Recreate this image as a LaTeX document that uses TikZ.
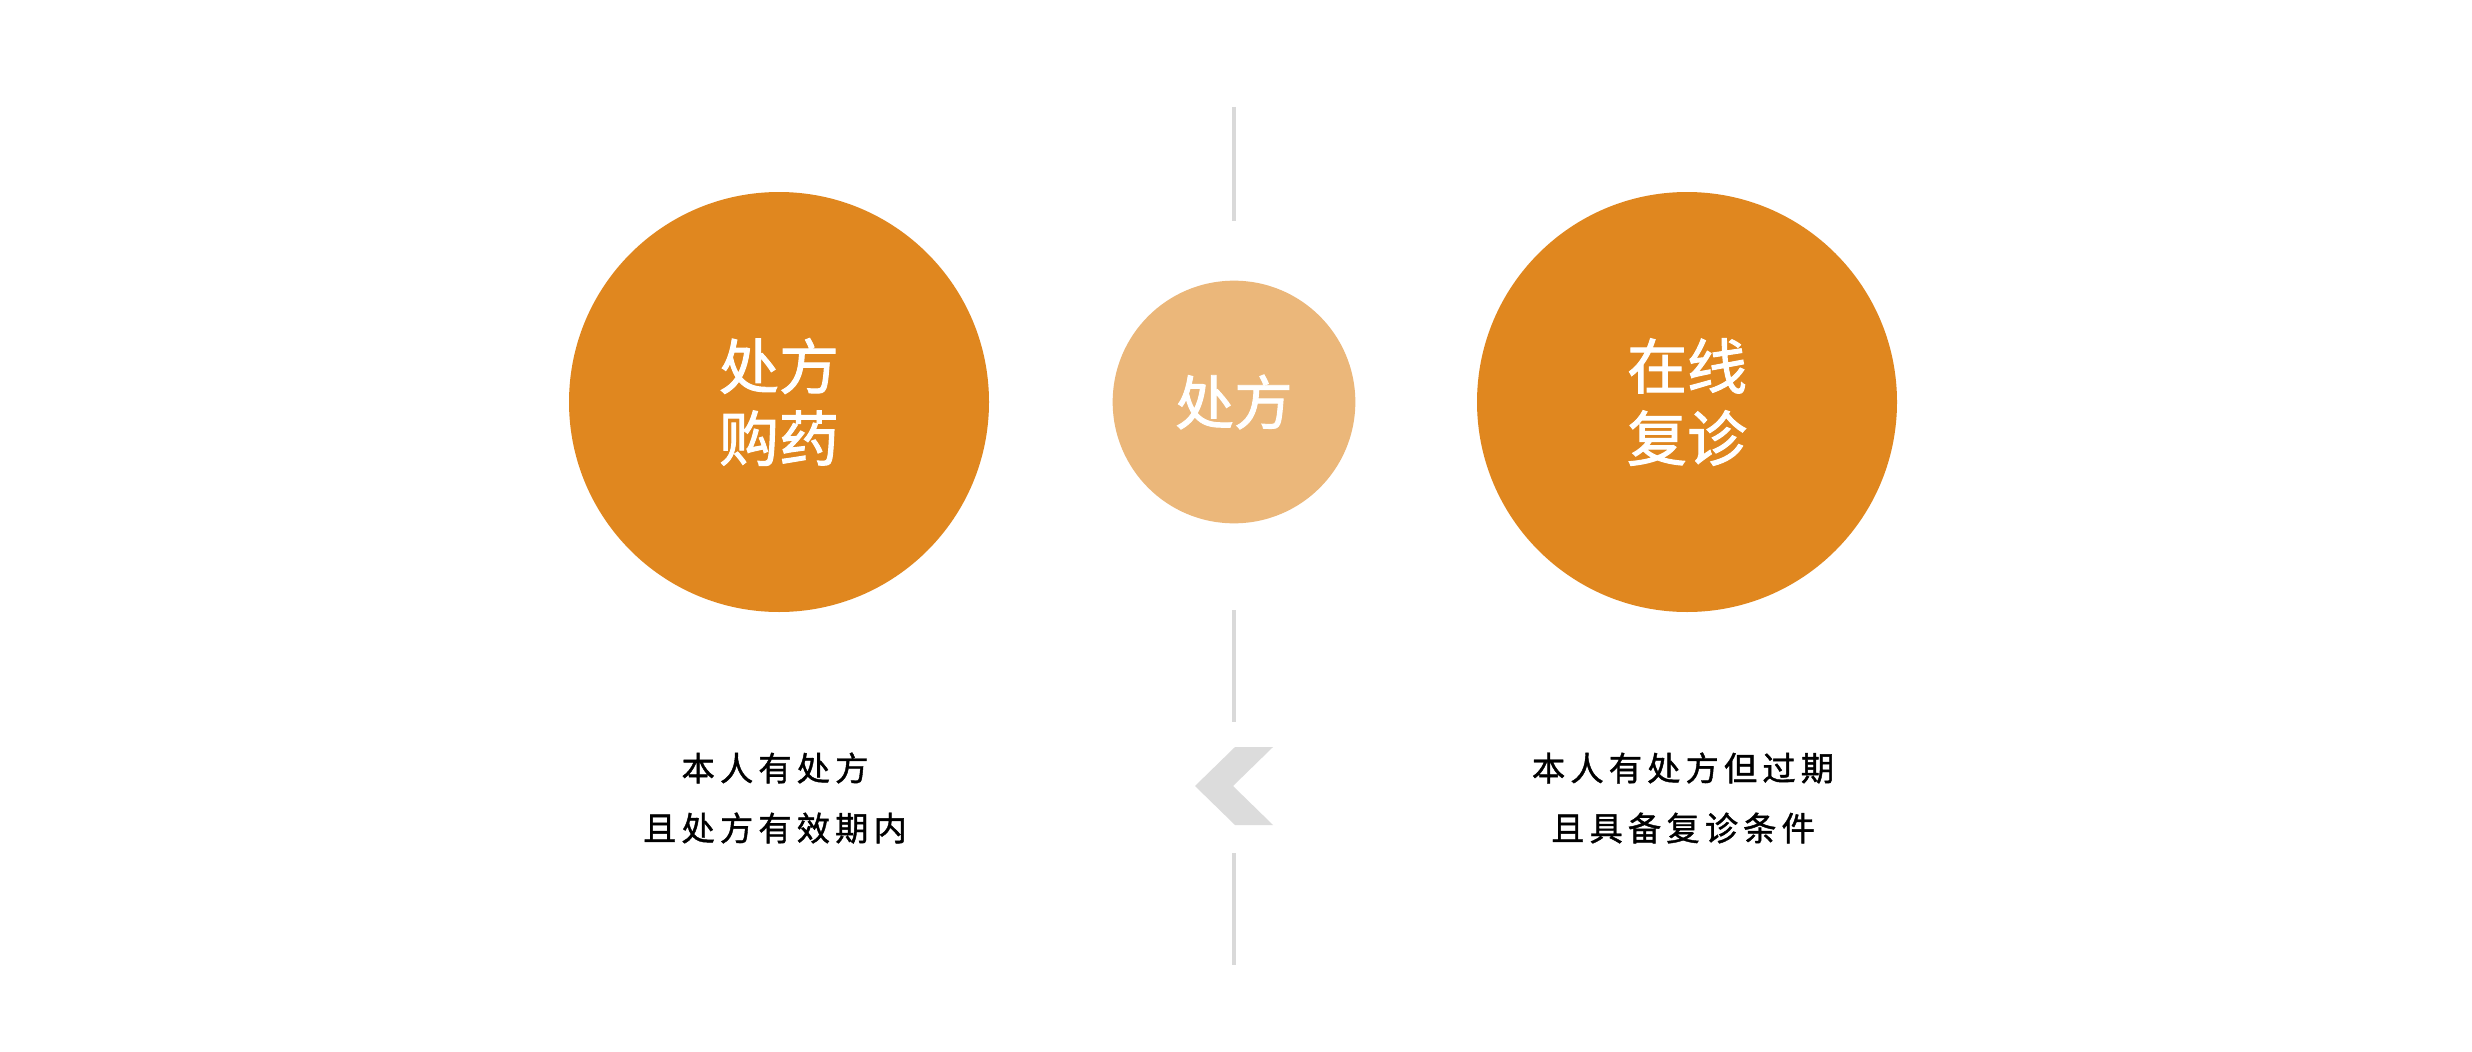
\documentclass[tikz,border=0pt]{standalone}
\usepackage{fontspec}
\newfontfamily\cjk[FakeBold=1.6]{Noto Sans CJK SC}
\newfontfamily\cjkb[FakeBold=1.2]{Noto Sans CJK SC}
\definecolor{orangemain}{HTML}{E0871F}
\definecolor{orangelight}{HTML}{EBB77A}
\definecolor{linegray}{HTML}{D9D9D9}
\definecolor{chevgray}{HTML}{DCDCDC}
\newcommand\ks{\kern3.8pt}
\tikzset{
  bigcirc/.style={circle, fill=orangemain, draw=none, minimum size=315pt, inner sep=0pt,
    text=white, align=center, font=\cjk\fontsize{45}{54}\selectfont},
  midcirc/.style={circle, fill=orangelight, draw=none, minimum size=182pt, inner sep=0pt,
    text=white, font=\cjk\fontsize{44}{54}\selectfont},
  desc/.style={inner sep=0pt, text=black, font=\cjkb\fontsize{25}{30}\selectfont},
  sepline/.style={draw=linegray, line width=2.6pt},
}
\begin{document}
\begin{tikzpicture}[x=0.75pt,y=-0.75pt]
\useasboundingbox (0,0) rectangle (2472,1052);
\fill[white] (0,0) rectangle (2472,1052);
% circles
\node[bigcirc] (left) at (779,402) {处方\\购药};
\node[midcirc] (mid) at (1234,402) {处方};
\node[bigcirc] (right) at (1687,402) {在线\\复诊};
% separator lines
\coordinate (t1) at (1234,107); \coordinate (t2) at (1234,221);
\coordinate (m1) at (1234,610); \coordinate (m2) at (1234,722);
\coordinate (b1) at (1234,853); \coordinate (b2) at (1234,965);
\draw[sepline] (t1) -- (t2);
\draw[sepline] (m1) -- (m2);
\draw[sepline] (b1) -- (b2);
% chevron
\fill[chevgray] (1273,747) -- (1235,747) -- (1195,786) -- (1235,825) -- (1273,825) -- (1233,786) -- cycle;
% descriptions
\node[desc] (l1) at (775,768) {本\ks 人\ks 有\ks 处\ks 方};
\node[desc] (l2) at (775,828) {且\ks 处\ks 方\ks 有\ks 效\ks 期\ks 内};
\node[desc] (r1) at (1683,768) {本\ks 人\ks 有\ks 处\ks 方\ks 但\ks 过\ks 期};
\node[desc] (r2) at (1683,828) {且\ks 具\ks 备\ks 复\ks 诊\ks 条\ks 件};
\end{tikzpicture}
\end{document}
